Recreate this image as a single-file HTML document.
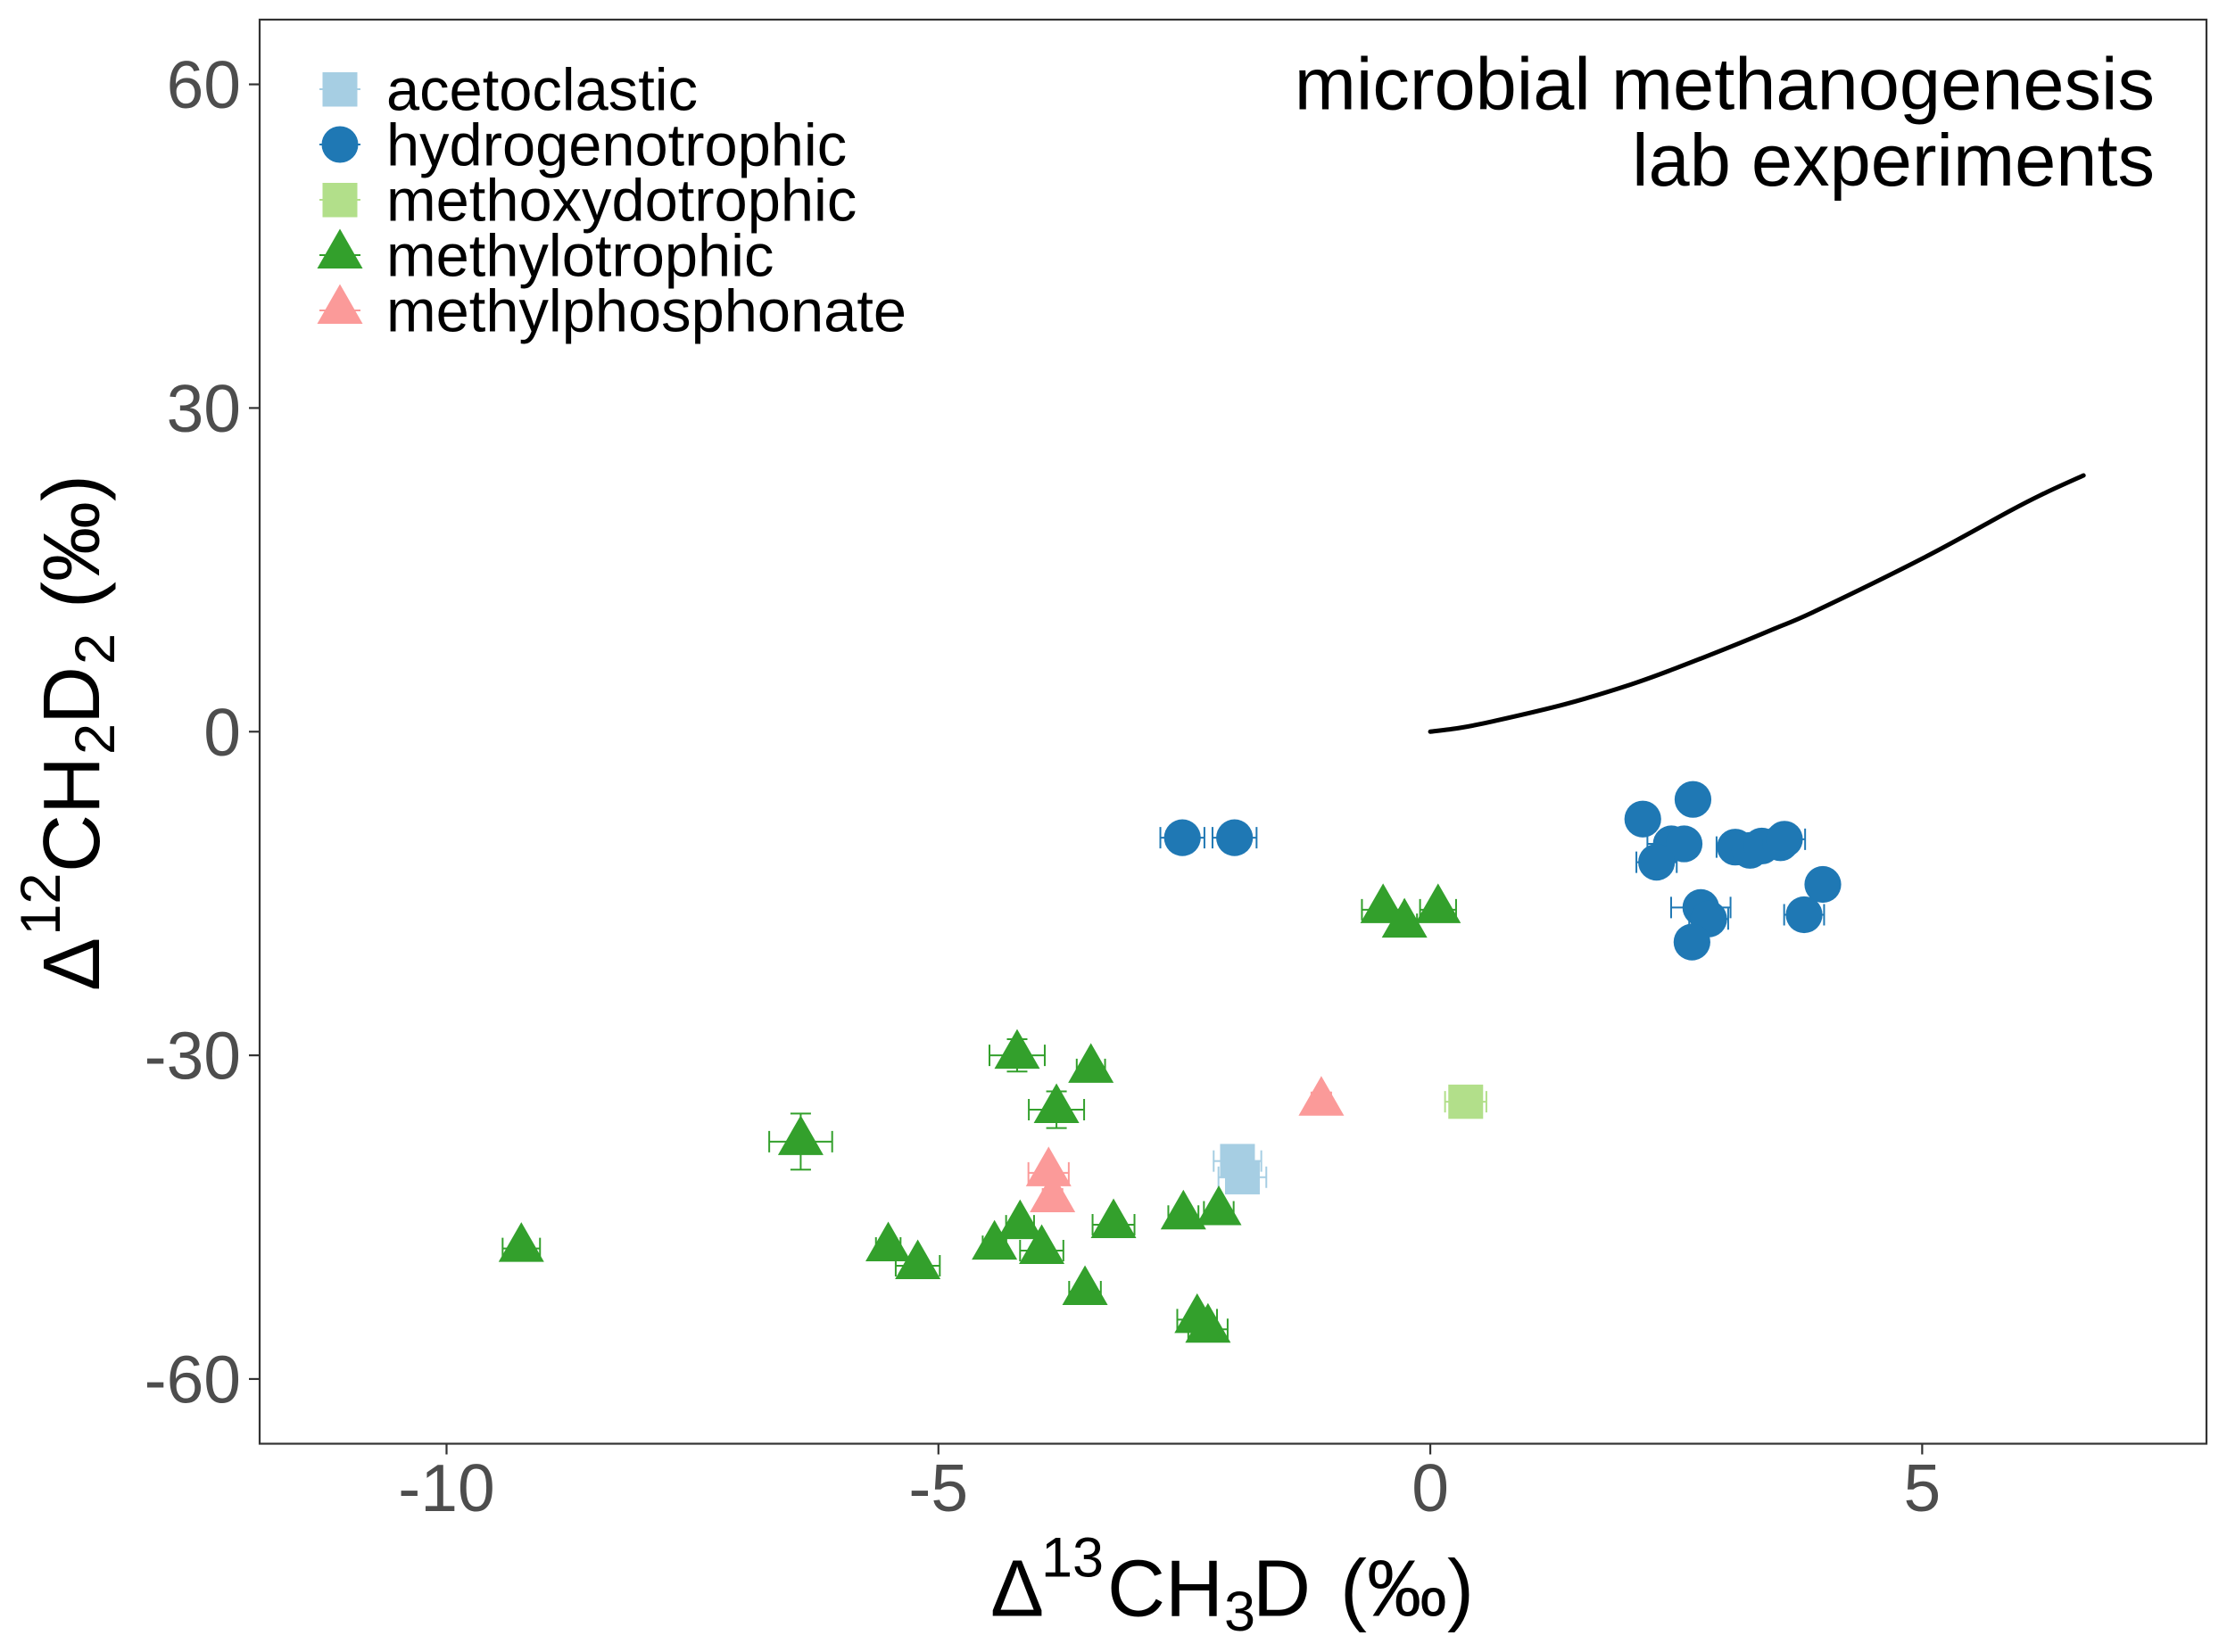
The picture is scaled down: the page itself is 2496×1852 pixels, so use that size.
<!DOCTYPE html>
<html lang="en">
<head>
<meta charset="utf-8">
<title>Microbial methanogenesis lab experiments</title>
<style>
html,body{margin:0;padding:0;background:#fff;}
svg{display:block;font-family:"Liberation Sans",Arial,sans-serif;}
</style>
</head>
<body>
<svg id="chart" xmlns="http://www.w3.org/2000/svg" width="2496" height="1852" viewBox="0 0 2496 1852">
  <rect x="0" y="0" width="2496" height="1852" fill="#fff"/>
  <g id="x-axis"></g>
  <g id="y-axis"></g>
  <g id="marks"></g>
  <rect x="291" y="22" width="2182" height="1596.5" fill="none" stroke="#333" stroke-width="2.2"/>

  <g font-size="83" fill="#000" text-anchor="end">
    <text x="2415" y="122.7">microbial methanogenesis</text>
    <text x="2415" y="208">lab experiments</text>
  </g>

  <g font-size="66.8" fill="#000">
    <g>
      <line x1="358" x2="404" y1="100" y2="100" stroke="#A6CEE3" stroke-width="2"/>
      <rect x="361.5" y="81" width="39" height="38.5" fill="#A6CEE3"/>
      <text x="433" y="123.3">acetoclastic</text>
    </g>
    <g>
      <line x1="358" x2="404" y1="162" y2="162" stroke="#1F78B4" stroke-width="2"/>
      <circle cx="381" cy="162" r="20.5" fill="#1F78B4"/>
      <text x="433" y="185.3">hydrogenotrophic</text>
    </g>
    <g>
      <line x1="358" x2="404" y1="224" y2="224" stroke="#B2DF8A" stroke-width="2"/>
      <rect x="361.5" y="205" width="39" height="38.5" fill="#B2DF8A"/>
      <text x="433" y="247.3">methoxydotrophic</text>
    </g>
    <g>
      <line x1="358" x2="404" y1="286" y2="286" stroke="#33A02C" stroke-width="2"/>
      <polygon points="381,256.5 406.5,301 355.5,301" fill="#33A02C"/>
      <text x="433" y="309.3">methylotrophic</text>
    </g>
    <g>
      <line x1="358" x2="404" y1="348" y2="348" stroke="#FB9A99" stroke-width="2"/>
      <polygon points="381,318.5 406.5,363 355.5,363" fill="#FB9A99"/>
      <text x="433" y="371.3">methylphosphonate</text>
    </g>
  </g>

  <text font-size="90" fill="#000" y="1811.7"><tspan x="1110">Δ</tspan><tspan x="1167" y="1767.7" font-size="63">13</tspan><tspan x="1241" y="1811.7">CH</tspan><tspan x="1372" y="1828" font-size="63">3</tspan><tspan x="1404" y="1811.7">D</tspan><tspan x="1502" y="1811.7">(‰)</tspan></text>

  <text font-size="90" fill="#000" transform="translate(111,1107) rotate(-90)" y="0"><tspan x="-4">Δ</tspan><tspan x="58.4" y="-44" font-size="63">12</tspan><tspan x="129" y="0">CH</tspan><tspan x="261" y="17" font-size="63">2</tspan><tspan x="295" y="0">D</tspan><tspan x="362" y="17" font-size="63">2</tspan><tspan x="425" y="0">(‰)</tspan></text>
</svg>

<script>
// Axis definitions
const xDomain = [-11.9, 7.89];
const yDomain = [-66, 66];
const xTicks = [-10, -5, 0, 5];
const yTicks = [-60, -30, 0, 30, 60];

// Theoretical equilibrium curve
const curveX = [0, 0.3, 0.641, 1.366, 2.032, 2.485, 3.12, 3.512, 3.92, 5.038, 5.9, 6.26, 6.64];
const curveY = [0, 0.35, 0.967, 2.537, 4.355, 5.843, 8.12, 9.6, 11.2, 16.22, 20.5, 22.17, 23.75];

// Acetoclastic
const acetoclasticX = [-1.96, -1.91];
const acetoclasticY = [-39.8, -41.3];
const acetoclasticXErr = [0.242, 0.243];
const acetoclasticYErr = [0.5, 0.5];

// Hydrogenotrophic
const hydrogenotrophicX = [2.67, 2.16, 2.45, 2.58, 2.30, 3.10, 3.25, 3.37, 3.56, 3.60, 3.99, 3.80, 2.75, 2.83, 2.66, -2.52, -1.99];
const hydrogenotrophicY = [-6.28, -8.1, -10.4, -10.4, -12.1, -10.7, -11.0, -10.6, -10.3, -9.97, -14.16, -16.97, -16.3, -17.36, -19.5, -9.83, -9.83];
const hydrogenotrophicXErr = [0.1, 0.1, 0.243, 0.1, 0.205, 0.19, 0.1, 0.1, 0.1, 0.21, 0.1, 0.203, 0.302, 0.198, 0.1, 0.224, 0.224];
const hydrogenotrophicYErr = [0.5, 0.5, 0.5, 0.5, 0.5, 0.5, 0.5, 0.5, 0.5, 0.5, 0.5, 0.5, 0.5, 0.5, 0.5, 0.5, 0.5];

// Methoxydotrophic
const methoxydotrophicX = [0.36];
const methoxydotrophicY = [-34.3];
const methoxydotrophicXErr = [0.21];
const methoxydotrophicYErr = [0.5];

// Methylotrophic
const methylotrophicX = [-4.2, -3.45, -3.8, -6.4, -4.17, -4.43, -3.95, -3.22, -3.51, -5.51, -5.21, -2.51, -2.15, -2.37, -2.26, -9.24, -0.48, -0.262, 0.079];
const methylotrophicY = [-30.0, -31.3, -35.04, -38.0, -45.8, -47.7, -48.1, -45.7, -51.9, -47.85, -49.5, -44.9, -44.5, -54.5, -55.4, -47.9, -16.5, -17.85, -16.5];
const methylotrophicXErr = [0.281, 0.144, 0.281, 0.32, 0.142, 0.12, 0.22, 0.213, 0.161, 0.125, 0.224, 0.153, 0.151, 0.202, 0.2, 0.19, 0.215, 0.127, 0.183];
const methylotrophicYErr = [1.5, 0.5, 1.7, 2.6, 0.5, 0.5, 0.5, 0.5, 0.5, 0.5, 0.5, 0.5, 0.5, 0.5, 0.5, 0.5, 0.5, 0.5, 0.5];

// Methylphosphonate
const methylphosphonateX = [-3.88, -3.84, -1.108];
const methylphosphonateY = [-40.9, -43.3, -34.35];
const methylphosphonateXErr = [0.205, 0.1, 0.1];
const methylphosphonateYErr = [0.5, 0.5, 0.5];

const PANEL_LEFT = 291, PANEL_RIGHT = 2473, PANEL_TOP = 22, PANEL_BOTTOM = 1618.5;
const SVG_NS = 'http://www.w3.org/2000/svg';

function xScale(v) {
  return PANEL_LEFT + (v - xDomain[0]) / (xDomain[1] - xDomain[0]) * (PANEL_RIGHT - PANEL_LEFT);
}
function yScale(v) {
  return PANEL_BOTTOM - (v - yDomain[0]) / (yDomain[1] - yDomain[0]) * (PANEL_BOTTOM - PANEL_TOP);
}
function make(tag, parent, attrs) {
  const el = document.createElementNS(SVG_NS, tag);
  for (const k in attrs) el.setAttribute(k, attrs[k]);
  parent.appendChild(el);
  return el;
}

const xAxisGroup = document.getElementById('x-axis');
const yAxisGroup = document.getElementById('y-axis');
const marksGroup = document.getElementById('marks');

xTicks.forEach(function (t) {
  const px = xScale(t);
  const tick = make('line', xAxisGroup, {x1: px, x2: px, y1: PANEL_BOTTOM, y2: PANEL_BOTTOM + 12, stroke: '#333', 'stroke-width': 2.2});
  
  
  const label = make('text', xAxisGroup, {x: px, y: 1694, 'text-anchor': 'middle', 'font-size': 75, fill: '#4D4D4D'});
  label.textContent = String(t);
  
  
});

yTicks.forEach(function (t) {
  const py = yScale(t);
  const tick = make('line', yAxisGroup, {x1: PANEL_LEFT - 12, x2: PANEL_LEFT, y1: py, y2: py, stroke: '#333', 'stroke-width': 2.2});
  
  
  const label = make('text', yAxisGroup, {x: 270, y: py + 26.5, 'text-anchor': 'end', 'font-size': 75, fill: '#4D4D4D'});
  label.textContent = String(t);
  
  
});

// Smooth Catmull-Rom path through the curve samples
function smoothPath(xs, ys) {
  const p = xs.map(function (x, i) { return [xScale(x), yScale(ys[i])]; });
  let d = 'M' + p[0][0] + ' ' + p[0][1];
  for (let i = 0; i < p.length - 1; i++) {
    const a = p[Math.max(i - 1, 0)], b = p[i], c = p[i + 1], e = p[Math.min(i + 2, p.length - 1)];
    d += 'C' + (b[0] + (c[0] - a[0]) / 6) + ' ' + (b[1] + (c[1] - a[1]) / 6) + ' ' +
         (c[0] - (e[0] - b[0]) / 6) + ' ' + (c[1] - (e[1] - b[1]) / 6) + ' ' + c[0] + ' ' + c[1];
  }
  return d;
}
const curve = make('path', marksGroup, {d: smoothPath(curveX, curveY), fill: 'none', stroke: '#000', 'stroke-width': 5, 'stroke-linecap': 'round', 'stroke-linejoin': 'round'});



function drawErrorBars(xs, ys, xe, ye, color, name) {
  const g = make('g', marksGroup, {stroke: color, 'stroke-width': 2, fill: 'none'});
  
  
  xs.forEach(function (x, i) {
    const cx = xScale(x), cy = yScale(ys[i]);
    const left = xScale(x - xe[i]), right = xScale(x + xe[i]);
    const top = yScale(ys[i] + ye[i]), bottom = yScale(ys[i] - ye[i]);
    make('path', g, {d: 'M' + left + ' ' + cy + 'H' + right + 'M' + left + ' ' + (cy - 12) + 'V' + (cy + 12) + 'M' + right + ' ' + (cy - 12) + 'V' + (cy + 12)});
    make('path', g, {d: 'M' + cx + ' ' + top + 'V' + bottom + 'M' + (cx - 11.5) + ' ' + top + 'H' + (cx + 11.5) + 'M' + (cx - 11.5) + ' ' + bottom + 'H' + (cx + 11.5)});
  });
}

function drawMarker(shape, cx, cy, color) {
  if (shape === 'square') {
    return make('rect', marksGroup, {x: cx - 19.5, y: cy - 19.2, width: 39, height: 38.4, fill: color});
  }
  if (shape === 'circle') {
    return make('circle', marksGroup, {cx: cx, cy: cy, r: 20.6, fill: color});
  }
  const pts = cx + ',' + (cy - 29.5) + ' ' + (cx + 25.5) + ',' + (cy + 15) + ' ' + (cx - 25.5) + ',' + (cy + 15);
  return make('polygon', marksGroup, {points: pts, fill: color});
}

// Error bars go underneath every marker
drawErrorBars(acetoclasticX, acetoclasticY, acetoclasticXErr, acetoclasticYErr, '#A6CEE3', 'acetoclastic-error-bars');
drawErrorBars(hydrogenotrophicX, hydrogenotrophicY, hydrogenotrophicXErr, hydrogenotrophicYErr, '#1F78B4', 'hydrogenotrophic-error-bars');
drawErrorBars(methoxydotrophicX, methoxydotrophicY, methoxydotrophicXErr, methoxydotrophicYErr, '#B2DF8A', 'methoxydotrophic-error-bars');
drawErrorBars(methylotrophicX, methylotrophicY, methylotrophicXErr, methylotrophicYErr, '#33A02C', 'methylotrophic-error-bars');
drawErrorBars(methylphosphonateX, methylphosphonateY, methylphosphonateXErr, methylphosphonateYErr, '#FB9A99', 'methylphosphonate-error-bars');

acetoclasticX.forEach(function (x, i) {
  const m = drawMarker('square', xScale(x), yScale(acetoclasticY[i]), '#A6CEE3');
  
  
});
hydrogenotrophicX.forEach(function (x, i) {
  const m = drawMarker('circle', xScale(x), yScale(hydrogenotrophicY[i]), '#1F78B4');
  
  
});
methoxydotrophicX.forEach(function (x, i) {
  const m = drawMarker('square', xScale(x), yScale(methoxydotrophicY[i]), '#B2DF8A');
  
  
});
methylotrophicX.forEach(function (x, i) {
  const m = drawMarker('triangle', xScale(x), yScale(methylotrophicY[i]), '#33A02C');
  
  
});
methylphosphonateX.forEach(function (x, i) {
  const m = drawMarker('triangle', xScale(x), yScale(methylphosphonateY[i]), '#FB9A99');
  
  
});
</script>
</body>
</html>
